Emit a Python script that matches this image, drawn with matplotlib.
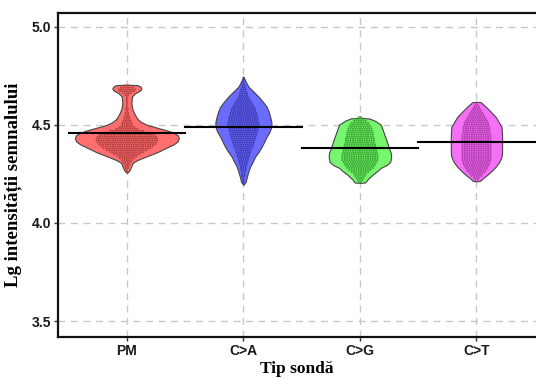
import numpy as np
import matplotlib.pyplot as plt

# categorii si valori medii
tipuri = ['PM', 'C>A', 'C>G', 'C>T']
medii = [4.46, 4.49, 4.38, 4.41]

# conturul viorilor: nivel (lg) si semi-latime
pm_y = [4.255, 4.265, 4.285, 4.306, 4.32, 4.337, 4.36, 4.383, 4.40, 4.415, 4.43,
        4.445, 4.46, 4.47, 4.485, 4.50, 4.515, 4.53, 4.55, 4.575, 4.60, 4.625,
        4.645, 4.66, 4.675, 4.685, 4.695, 4.702, 4.704]
pm_w = [0.0, 0.02, 0.035, 0.05, 0.09, 0.16, 0.26, 0.34, 0.40, 0.435, 0.445,
        0.44, 0.40, 0.35, 0.26, 0.17, 0.12, 0.09, 0.07, 0.05, 0.04, 0.04,
        0.045, 0.07, 0.115, 0.125, 0.115, 0.09, 0.0]
ca_y = [4.194, 4.21, 4.235, 4.26, 4.286, 4.31, 4.337, 4.36, 4.388, 4.415, 4.44,
        4.465, 4.49, 4.515, 4.54, 4.565, 4.592, 4.615, 4.643, 4.67, 4.694, 4.72, 4.745]
ca_w = [0.0, 0.02, 0.03, 0.042, 0.057, 0.078, 0.10, 0.128, 0.157, 0.18, 0.20,
        0.225, 0.24, 0.24, 0.23, 0.218, 0.20, 0.17, 0.13, 0.085, 0.043, 0.02, 0.0]
cg_y = [4.204, 4.206, 4.225, 4.245, 4.265, 4.281, 4.295, 4.311, 4.335, 4.357,
        4.38, 4.398, 4.425, 4.449, 4.475, 4.50, 4.52, 4.532, 4.536]
cg_w = [0.0, 0.045, 0.07, 0.107, 0.15, 0.18, 0.23, 0.26, 0.268, 0.265,
        0.25, 0.24, 0.225, 0.21, 0.195, 0.18, 0.13, 0.08, 0.0]
ct_y = [4.212, 4.214, 4.23, 4.245, 4.265, 4.286, 4.31, 4.337, 4.36, 4.388, 4.415,
        4.44, 4.465, 4.49, 4.515, 4.54, 4.565, 4.592, 4.605, 4.615, 4.617]
ct_w = [0.0, 0.03, 0.06, 0.093, 0.13, 0.165, 0.195, 0.215, 0.22, 0.22, 0.22,
        0.22, 0.218, 0.215, 0.19, 0.165, 0.125, 0.08, 0.055, 0.036, 0.0]

# numarul de puncte pe fiecare rand (pas 0.01)
pm_start = 4.26
pm_n = [1, 1, 2, 2, 3, 4, 5, 7, 9, 12, 15, 18, 21, 23, 25, 26, 27, 27, 26, 24,
        20, 15, 10, 7, 5, 5, 4, 3, 3, 2, 2, 1, 2, 1, 1, 1, 1, 1, 1, 2, 4, 7, 8, 6, 3]
ca_start = 4.20
ca_n = [1, 1, 1, 1, 2, 2, 2, 3, 3, 3, 4, 4, 5, 5, 6, 6, 7, 7, 8, 9,
        9, 10, 10, 11, 11, 12, 12, 13, 13, 14, 14, 14, 13, 13, 13, 12, 12, 11, 11, 10,
        9, 8, 7, 6, 5, 4, 4, 3, 3, 2, 2, 1, 1, 1, 1]
cg_start = 4.21
cg_n = [2, 3, 4, 5, 6, 8, 10, 12, 13, 14, 15, 16, 16, 16, 16, 15, 15, 14, 14,
        14, 13, 13, 13, 12, 12, 12, 11, 11, 10, 9, 8, 6, 4, 2]
ct_start = 4.22
ct_n = [2, 3, 5, 6, 8, 9, 10, 11, 12, 12, 13, 13, 13, 13, 13, 13, 13, 13,
        13, 13, 13, 13, 13, 13, 12, 12, 12, 12, 11, 11, 10, 9, 8, 7, 6, 5, 4, 3, 2, 1]

contur = [(pm_y, pm_w), (ca_y, ca_w), (cg_y, cg_w), (ct_y, ct_w)]
puncte = [(pm_start, pm_n), (ca_start, ca_n), (cg_start, cg_n), (ct_start, ct_n)]
culori = ['#ff6f6f', '#6b6bff', '#78f56e', '#f570f5']
culori_punct = ['#a83838', '#3535a8', '#2f9a2a', '#a333a3']

fig = plt.figure(figsize=(5.36, 3.78), dpi=100)
ax = fig.add_axes([0.108, 0.109, 0.892, 0.857])

for i in range(4):
    x0 = i + 1
    yv, wv = contur[i]
    yv = np.array(yv)
    wv = np.array(wv)
    ax.fill_betweenx(yv, x0 - wv, x0 + wv, color=culori[i], edgecolor='#444444',
                     linewidth=0.8, zorder=2)
    # puncte (dotplot) in interiorul viorii
    start, n = puncte[i]
    for k, cnt in enumerate(n):
        yy = start + 0.01 * k
        xs = x0 + (np.arange(cnt) - (cnt - 1) / 2) * 0.02
        ax.scatter(xs, np.full(cnt, yy), s=2.2, color=culori_punct[i],
                   edgecolor='none', alpha=0.8, zorder=3)
    ax.plot([x0 - 0.5, x0 + 0.5], [medii[i], medii[i]], color='black',
            linewidth=1.5, zorder=4)

ax.set_xlim(0.408, 4.511)
ax.set_ylim(3.42, 5.07)
ax.set_xticks([1, 2, 3, 4])
ax.set_xticklabels(tipuri)
ax.set_yticks([3.5, 4.0, 4.5, 5.0])
ax.set_yticklabels(['3.5', '4.0', '4.5', '5.0'])

ax.grid(True, color='#c8c8c8', linestyle=(0, (5, 4)), linewidth=1.0, zorder=0)
ax.set_axisbelow(True)

for s in ['left', 'bottom', 'top']:
    ax.spines[s].set_linewidth(1.6)
    ax.spines[s].set_color('#111111')
ax.spines['right'].set_visible(False)

ax.tick_params(axis='both', length=3, width=1, color='#333333', labelcolor='#1a1a1a',
               pad=2)
for lab in ax.get_xticklabels() + ax.get_yticklabels():
    lab.set_family('Liberation Sans')
    lab.set_fontweight('bold')
    lab.set_fontsize(10)

ax.set_xlabel('Tip sondă', family='Liberation Serif', fontweight='bold',
              fontsize=12.5, labelpad=2)
ax.set_ylabel('Lg intensității semnalului', family='Liberation Serif',
              fontweight='bold', fontsize=13.5, labelpad=10)
ax.yaxis.set_label_coords(-0.075, 0.47)

fig.savefig('out.png', dpi=100)
